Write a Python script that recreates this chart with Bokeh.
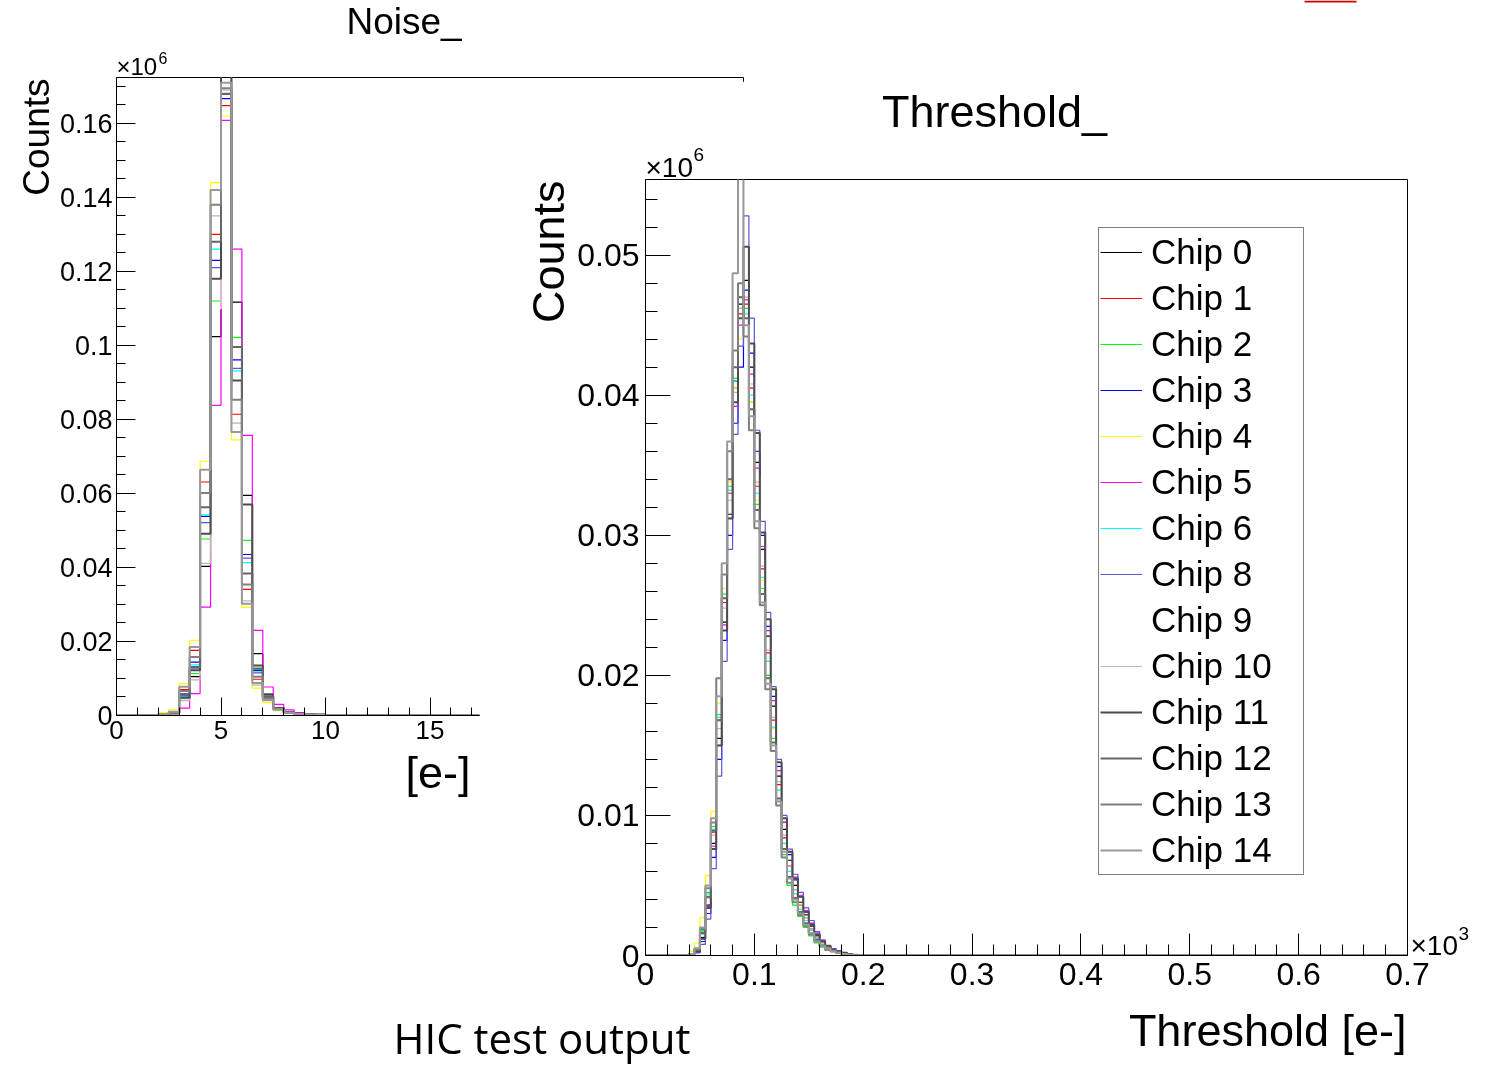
import math
from bokeh.plotting import figure
from bokeh.models import Range1d, FixedTicker, Label, Legend, LegendItem, BoxAnnotation
from bokeh.layouts import column
from bokeh.embed import file_html
from bokeh.resources import INLINE

# ---------------- data ----------------
chips = ["Chip 0", "Chip 1", "Chip 2", "Chip 3", "Chip 4", "Chip 5", "Chip 6",
         "Chip 8", "Chip 9", "Chip 10", "Chip 11", "Chip 12", "Chip 13", "Chip 14"]
chip_colors = ["#000000", "#ff0000", "#00ff00", "#0000ff", "#ffff00", "#ff00ff", "#00ffff",
               "#5954d8", "#ffffff", "#c0b6ac", "#4c4c4c", "#666666", "#7f7f7f", "#999999"]
chip_widths = [1.2, 1.2, 1.2, 1.2, 1.2, 1.2, 1.2, 1.2, 1.2, 1.2, 2, 2, 2, 2]

# Noise histogram: bin edges [e-], counts in units of 10^6
noise_edges = [2.0, 2.5, 3.0, 3.5, 4.0, 4.5, 5.0, 5.5, 6.0, 6.5, 7.0, 7.5, 8.0, 8.5,
               9.0, 9.5, 10.0, 10.5, 11.0, 11.5, 12.0, 12.5, 13.0]
noise_chip0 = [0.0003, 0.0006, 0.0047, 0.0105, 0.0403, 0.1024, 0.1745, 0.1117, 0.0595, 0.0167, 0.0058, 0.0021, 0.0009, 0.0005, 0.0003, 0.0002, 0.0001, 0.0001, 0.0001, 0.00005, 0.00004, 0.00003]
noise_chip1 = [0.0004, 0.0009, 0.0070, 0.0176, 0.0631, 0.1300, 0.1648, 0.0814, 0.0341, 0.0098, 0.0045, 0.0017, 0.0008, 0.0004, 0.0003, 0.0002, 0.0001, 0.0001, 0.00005, 0.00004, 0.00003, 0.00002]
noise_chip2 = [0.0002, 0.0005, 0.0045, 0.0113, 0.0477, 0.1120, 0.1750, 0.1022, 0.0473, 0.0125, 0.0050, 0.0019, 0.0009, 0.0004, 0.0003, 0.0002, 0.0001, 0.0001, 0.00005, 0.00004, 0.00003, 0.00002]
noise_chip3 = [0.0003, 0.0006, 0.0055, 0.0144, 0.0538, 0.1230, 0.1667, 0.0961, 0.0435, 0.0122, 0.0049, 0.0018, 0.0008, 0.0004, 0.0003, 0.0002, 0.0001, 0.0001, 0.00005, 0.00004, 0.00003, 0.00002]
noise_chip4 = [0.0008, 0.0015, 0.0086, 0.0203, 0.0687, 0.1440, 0.1620, 0.0745, 0.0292, 0.0074, 0.0035, 0.0013, 0.0006, 0.0003, 0.0002, 0.0001, 0.0001, 0.00005, 0.00004, 0.00003, 0.00002, 0.00001]
noise_chip5 = [0.0000, 0.0001, 0.0020, 0.0059, 0.0293, 0.0838, 0.1608, 0.1260, 0.0757, 0.0230, 0.0077, 0.0030, 0.0015, 0.0008, 0.0004, 0.0003, 0.0002, 0.0001, 0.0001, 0.00006, 0.00004, 0.00003]
noise_chip6 = [0.0003, 0.0006, 0.0052, 0.0137, 0.0542, 0.1260, 0.1700, 0.0931, 0.0413, 0.0118, 0.0048, 0.0018, 0.0008, 0.0004, 0.0003, 0.0002, 0.0001, 0.0001, 0.00005, 0.00004, 0.00003, 0.00002]
noise_chip8 = [0.0003, 0.0006, 0.0050, 0.0128, 0.0521, 0.1210, 0.1678, 0.0938, 0.0425, 0.0115, 0.0047, 0.0018, 0.0008, 0.0004, 0.0003, 0.0002, 0.0001, 0.0001, 0.00005, 0.00004, 0.00003, 0.00002]
noise_chip9 = [0.0002, 0.0005, 0.0045, 0.0110, 0.0450, 0.1100, 0.1700, 0.0880, 0.0400, 0.0110, 0.0045, 0.0017, 0.0008, 0.0004, 0.0003, 0.0002, 0.0001, 0.0001, 0.00005, 0.00004, 0.00003, 0.00002]
noise_chip10 = [0.0002, 0.0005, 0.0040, 0.0096, 0.0411, 0.1350, 0.1690, 0.0790, 0.0310, 0.0082, 0.0040, 0.0015, 0.0007, 0.0004, 0.0002, 0.0002, 0.0001, 0.0001, 0.00005, 0.00004, 0.00003, 0.00002]
noise_chip11 = [0.0003, 0.0006, 0.0048, 0.0122, 0.0491, 0.1180, 0.1735, 0.0905, 0.0570, 0.0135, 0.0052, 0.0020, 0.0009, 0.0005, 0.0003, 0.0002, 0.0001, 0.0001, 0.00005, 0.00004, 0.00003, 0.00002]
noise_chip12 = [0.0003, 0.0007, 0.0058, 0.0131, 0.0563, 0.1280, 0.1680, 0.0996, 0.0384, 0.0127, 0.0050, 0.0019, 0.0009, 0.0004, 0.0003, 0.0002, 0.0001, 0.0001, 0.00005, 0.00004, 0.00003, 0.00002]
noise_chip13 = [0.0003, 0.0008, 0.0066, 0.0158, 0.0601, 0.1380, 0.1695, 0.0853, 0.0354, 0.0105, 0.0046, 0.0017, 0.0008, 0.0004, 0.0003, 0.0002, 0.0001, 0.0001, 0.00005, 0.00004, 0.00003, 0.00002]
noise_chip14 = [0.0004, 0.0010, 0.0078, 0.0185, 0.0664, 0.1420, 0.1710, 0.0766, 0.0302, 0.0088, 0.0042, 0.0016, 0.0007, 0.0004, 0.0002, 0.0002, 0.0001, 0.0001, 0.00005, 0.00004, 0.00003, 0.00002]

# Threshold histogram: bin edges in units of 10^3 e-, counts in units of 10^6
thr_edges = [0.040, 0.045, 0.050, 0.055, 0.060, 0.065, 0.070, 0.075, 0.080, 0.085, 0.090,
             0.095, 0.100, 0.105, 0.110, 0.115, 0.120, 0.125, 0.130, 0.135, 0.140, 0.145,
             0.150, 0.155, 0.160, 0.165, 0.170, 0.175, 0.180, 0.185, 0.190, 0.195, 0.200]
thr_chip0 = [0.0001, 0.0003, 0.0013, 0.0036, 0.0080, 0.0155, 0.0238, 0.0315, 0.0410, 0.0465, 0.0482, 0.0420, 0.0352, 0.0290, 0.0228, 0.0178, 0.0128, 0.0090, 0.0068, 0.0050, 0.0038, 0.0029, 0.0021, 0.0014, 0.0010, 0.0006, 0.0004, 0.0003, 0.0002, 0.0001, 0.00006, 0.00003]
thr_chip1 = [0.0001, 0.0004, 0.0016, 0.0042, 0.0088, 0.0168, 0.0252, 0.0330, 0.0405, 0.0458, 0.0465, 0.0405, 0.0335, 0.0276, 0.0216, 0.0168, 0.0122, 0.0084, 0.0064, 0.0047, 0.0036, 0.0027, 0.0019, 0.0013, 0.0009, 0.0006, 0.0004, 0.0002, 0.00015, 0.0001, 0.00005, 0.00002]
thr_chip2 = [0.0001, 0.0005, 0.0018, 0.0045, 0.0092, 0.0172, 0.0258, 0.0335, 0.0412, 0.0470, 0.0462, 0.0395, 0.0322, 0.0262, 0.0200, 0.0155, 0.0110, 0.0072, 0.0050, 0.0036, 0.0028, 0.0020, 0.0014, 0.0009, 0.0006, 0.0004, 0.0003, 0.0002, 0.0001, 0.00006, 0.00003, 0.00001]
thr_chip3 = [0.0000, 0.0002, 0.0010, 0.0030, 0.0070, 0.0140, 0.0225, 0.0300, 0.0380, 0.0420, 0.0475, 0.0430, 0.0360, 0.0300, 0.0235, 0.0185, 0.0135, 0.0095, 0.0072, 0.0054, 0.0042, 0.0032, 0.0023, 0.0015, 0.0010, 0.0007, 0.0004, 0.0003, 0.0002, 0.0001, 0.00006, 0.00003]
thr_chip4 = [0.0003, 0.0009, 0.0027, 0.0057, 0.0103, 0.0180, 0.0262, 0.0338, 0.0405, 0.0440, 0.0455, 0.0395, 0.0325, 0.0268, 0.0210, 0.0162, 0.0118, 0.0080, 0.0060, 0.0044, 0.0034, 0.0025, 0.0018, 0.0012, 0.0008, 0.0005, 0.0003, 0.0002, 0.0001, 0.00006, 0.00003, 0.00001]
thr_chip5 = [0.0000, 0.0003, 0.0012, 0.0035, 0.0078, 0.0150, 0.0236, 0.0312, 0.0392, 0.0450, 0.0468, 0.0415, 0.0348, 0.0292, 0.0232, 0.0182, 0.0132, 0.0095, 0.0074, 0.0056, 0.0043, 0.0032, 0.0023, 0.0016, 0.0011, 0.0007, 0.0005, 0.0003, 0.0002, 0.0001, 0.00007, 0.00004]
thr_chip6 = [0.0001, 0.0005, 0.0017, 0.0044, 0.0090, 0.0170, 0.0255, 0.0332, 0.0410, 0.0462, 0.0458, 0.0400, 0.0330, 0.0270, 0.0210, 0.0163, 0.0118, 0.0080, 0.0060, 0.0044, 0.0033, 0.0025, 0.0018, 0.0012, 0.0008, 0.0005, 0.0003, 0.0002, 0.0001, 0.00006, 0.00003, 0.00001]
thr_chip8 = [0.0000, 0.0002, 0.0008, 0.0026, 0.0062, 0.0128, 0.0210, 0.0290, 0.0372, 0.0435, 0.0528, 0.0455, 0.0375, 0.0310, 0.0245, 0.0192, 0.0140, 0.0100, 0.0076, 0.0058, 0.0045, 0.0034, 0.0025, 0.0017, 0.0011, 0.0007, 0.0005, 0.0003, 0.0002, 0.0001, 0.00007, 0.00004]
thr_chip9 = [0.0001, 0.0004, 0.0014, 0.0038, 0.0082, 0.0158, 0.0240, 0.0318, 0.0398, 0.0455, 0.0472, 0.0412, 0.0342, 0.0282, 0.0222, 0.0174, 0.0126, 0.0088, 0.0066, 0.0049, 0.0037, 0.0028, 0.0020, 0.0013, 0.0009, 0.0006, 0.0004, 0.00025, 0.00015, 0.0001, 0.00006, 0.00003]
thr_chip10 = [0.0001, 0.0004, 0.0015, 0.0041, 0.0086, 0.0162, 0.0248, 0.0325, 0.0402, 0.0462, 0.0470, 0.0408, 0.0338, 0.0278, 0.0218, 0.0170, 0.0124, 0.0086, 0.0064, 0.0047, 0.0036, 0.0027, 0.0019, 0.0013, 0.0009, 0.0006, 0.0004, 0.00025, 0.00015, 0.0001, 0.00006, 0.00003]
thr_chip11 = [0.0001, 0.0003, 0.0012, 0.0034, 0.0076, 0.0150, 0.0232, 0.0312, 0.0395, 0.0455, 0.0506, 0.0437, 0.0373, 0.0302, 0.0240, 0.0190, 0.0138, 0.0098, 0.0074, 0.0055, 0.0042, 0.0031, 0.0022, 0.0015, 0.0010, 0.0007, 0.0004, 0.0003, 0.0002, 0.0001, 0.00006, 0.00003]
thr_chip12 = [0.0001, 0.0004, 0.0016, 0.0042, 0.0089, 0.0168, 0.0255, 0.0340, 0.0420, 0.0470, 0.0455, 0.0390, 0.0318, 0.0258, 0.0198, 0.0152, 0.0112, 0.0076, 0.0056, 0.0041, 0.0031, 0.0023, 0.0016, 0.0011, 0.0007, 0.0005, 0.0003, 0.0002, 0.0001, 0.00006, 0.00003, 0.00001]
thr_chip13 = [0.0001, 0.0005, 0.0019, 0.0048, 0.0095, 0.0198, 0.0272, 0.0360, 0.0432, 0.0480, 0.0442, 0.0375, 0.0305, 0.0250, 0.0190, 0.0146, 0.0107, 0.0070, 0.0052, 0.0038, 0.0029, 0.0021, 0.0015, 0.0010, 0.0007, 0.0004, 0.0003, 0.0002, 0.0001, 0.00005, 0.00002, 0.00001]
thr_chip14 = [0.0001, 0.0005, 0.0020, 0.0050, 0.0098, 0.0185, 0.0280, 0.0367, 0.0487, 0.0560, 0.0450, 0.0385, 0.0310, 0.0252, 0.0194, 0.0150, 0.0110, 0.0074, 0.0055, 0.0040, 0.0030, 0.0022, 0.0016, 0.0010, 0.0007, 0.0005, 0.0003, 0.0002, 0.0001, 0.00005, 0.00002, 0.00001]

noise_series = [noise_chip0, noise_chip1, noise_chip2, noise_chip3, noise_chip4, noise_chip5, noise_chip6,
                noise_chip8, noise_chip9, noise_chip10, noise_chip11, noise_chip12, noise_chip13, noise_chip14]
thr_series = [thr_chip0, thr_chip1, thr_chip2, thr_chip3, thr_chip4, thr_chip5, thr_chip6,
              thr_chip8, thr_chip9, thr_chip10, thr_chip11, thr_chip12, thr_chip13, thr_chip14]

# tick labels
noise_xticks = [0, 5, 10, 15, 20, 25, 30]
noise_xtick_labels = ["0", "5", "10", "15", "20", "25", "30"]
noise_yticks = [0, 0.02, 0.04, 0.06, 0.08, 0.1, 0.12, 0.14, 0.16]
noise_ytick_labels = ["0", "0.02", "0.04", "0.06", "0.08", "0.1", "0.12", "0.14", "0.16"]
thr_xticks = [0, 0.1, 0.2, 0.3, 0.4, 0.5, 0.6, 0.7]
thr_xtick_labels = ["0", "0.1", "0.2", "0.3", "0.4", "0.5", "0.6", "0.7"]
thr_yticks = [0, 0.01, 0.02, 0.03, 0.04, 0.05]
thr_ytick_labels = ["0", "0.01", "0.02", "0.03", "0.04", "0.05"]

NOISE_X = (0, 30)
NOISE_Y = (0, 0.1724)
THR_X = (0, 0.7)
THR_Y = (0, 0.0554)

FONT = "Liberation Sans"

# ---------------- geometry (page pixels) ----------------
# All pads share the same left/right borders (a column aligns plot frames)
B_L, B_R = 166, 84
PAGE_W, PAGE_H = 1491, 1065
# noise frame on page: x 116..743, y 77..715
N_FX, N_FY, N_FW, N_FH = 116, 77, 627, 638
N_BB = 85
# threshold frame on page: x 645..1407, y 179..955
T_FX, T_FY, T_FW, T_FH = 645, 179, 762, 776
T_BT, T_BB = 98, 110


def step_path(edges, vals, lo, hi):
    xs, ys = [lo, edges[0]], [0, 0]
    for i, v in enumerate(vals):
        xs += [edges[i], edges[i + 1]]
        ys += [v, v]
    xs += [edges[-1], hi]
    ys += [0, 0]
    return xs, ys


def style_axis(ax, size, tin, tmin, standoff):
    ax.major_tick_in = tin
    ax.major_tick_out = 0
    ax.minor_tick_in = tmin
    ax.minor_tick_out = 0
    ax.major_label_standoff = standoff
    ax.major_label_text_font = FONT
    ax.major_label_text_font_size = size
    ax.major_label_text_color = "black"
    ax.axis_line_color = "black"
    ax.major_tick_line_color = "black"
    ax.minor_tick_line_color = "black"


# ---------------- Noise pad ----------------
noise = figure(width=B_L + N_FW + B_R, height=N_FY + N_FH + N_BB,
               x_range=Range1d(*NOISE_X), y_range=Range1d(*NOISE_Y),
               output_backend="svg", toolbar_location=None,
               min_border_left=B_L, min_border_top=N_FY, min_border_right=B_R, min_border_bottom=N_BB)
noise.grid.grid_line_color = None
noise.outline_line_color = "black"
noise.background_fill_color = "white"
noise.border_fill_color = "white"

xa = noise.xaxis[0]
xa.ticker = FixedTicker(ticks=noise_xticks, minor_ticks=list(range(0, 31)))
xa.major_label_overrides = dict(zip(noise_xticks, noise_xtick_labels))
style_axis(xa, "26px", 18, 8, 5)
ya = noise.yaxis[0]
ya.ticker = FixedTicker(ticks=noise_yticks, minor_ticks=[round(0.005 * i, 3) for i in range(35)])
ya.major_label_overrides = dict(zip(noise_yticks, noise_ytick_labels))
style_axis(ya, "27px", 19, 9, 4)

for vals, col, w in zip(noise_series, chip_colors, chip_widths):
    xs, ys = step_path(noise_edges, vals, NOISE_X[0], NOISE_X[1])
    noise.line(xs, ys, line_color=col, line_width=w)

# ---------------- Threshold pad ----------------
thr = figure(width=B_L + T_FW + B_R, height=T_BT + T_FH + T_BB,
             x_range=Range1d(*THR_X), y_range=Range1d(*THR_Y),
             output_backend="svg", toolbar_location=None,
             min_border_left=B_L, min_border_top=T_BT, min_border_right=B_R, min_border_bottom=T_BB)
thr.grid.grid_line_color = None
thr.outline_line_color = "black"
thr.background_fill_color = "white"
thr.border_fill_color = "white"

xa = thr.xaxis[0]
xa.ticker = FixedTicker(ticks=thr_xticks, minor_ticks=[round(0.02 * i, 3) for i in range(36)])
xa.major_label_overrides = dict(zip(thr_xticks, thr_xtick_labels))
style_axis(xa, "32px", 22, 11, 7)
ya = thr.yaxis[0]
ya.ticker = FixedTicker(ticks=thr_yticks, minor_ticks=[round(0.002 * i, 3) for i in range(28)])
ya.major_label_overrides = dict(zip(thr_yticks, thr_ytick_labels))
style_axis(ya, "32px", 25, 12, 6)

items = []
for name, vals, col, w in zip(chips, thr_series, chip_colors, chip_widths):
    xs, ys = step_path(thr_edges, vals, THR_X[0], THR_X[1])
    r = thr.line(xs, ys, line_color=col, line_width=w)
    items.append(LegendItem(label=name, renderers=[r]))

legend = Legend(items=items, location=(1098 - T_FX, T_FY + T_FH - 875),
                label_text_font=FONT, label_text_font_size="35px", label_text_color="black",
                glyph_width=42, glyph_height=46, label_height=46, label_standoff=9,
                label_width=151, padding=1, spacing=0, margin=0,
                border_line_color="black", border_line_width=1,
                background_fill_color="white", background_fill_alpha=1.0)
thr.add_layout(legend)

# ---------------- page overlay (texts of both pads + slide text) ----------------
over = figure(width=B_L + PAGE_W + B_R, height=PAGE_H,
              x_range=Range1d(0, PAGE_W), y_range=Range1d(PAGE_H, 0),
              output_backend="svg", toolbar_location=None, x_axis_type=None, y_axis_type=None,
              min_border_left=B_L, min_border_right=B_R, min_border_top=0, min_border_bottom=0)
over.grid.grid_line_color = None
over.outline_line_color = None
over.background_fill_alpha = 0
over.border_fill_alpha = 0

MID = 0.37  # distance from text middle to baseline, in em


def text_h(x, base, s, size, align="left", font=FONT, k=MID):
    over.add_layout(Label(x=x, y=base - k * size, text=s, text_font=font,
                          text_font_size=f"{size}px", text_align=align,
                          text_baseline="middle", text_color="black"))


def text_v(base_x, top, s, size, font=FONT, k=MID):
    over.add_layout(Label(x=base_x - k * size, y=top, text=s, text_font=font,
                          text_font_size=f"{size}px", text_align="right",
                          text_baseline="middle", angle=math.pi / 2, text_color="black"))


# noise pad texts
text_h(403.5, 35, "Noise_", 37, "center")
text_v(50, N_FY + 1, "Counts", 37)
text_h(470, 789, "[e-]", 45, "right")
text_h(N_FX, 75, "\u00d710", 24)
text_h(158, 63, "6", 16)
# threshold pad texts
text_h(994, 128, "Threshold_", 45, "center")
text_v(565, T_FY + 1, "Counts", 45)
text_h(T_FX + T_FW - 1, 1047, "Threshold [e-]", 45, "right")
text_h(T_FX, 177, "\u00d710", 28)
text_h(693, 161, "6", 19)
text_h(1410, 955, "\u00d710", 28)
text_h(1458, 940, "3", 19)
# slide text
text_h(393, 1053, "HIC test output", 42, "left", "Open Sans", 0.39)
over.add_layout(BoxAnnotation(left=1304, right=1356, top=0, bottom=2, fill_color="#d40000",
                              fill_alpha=1, line_color=None))

# absolute placement inside a fixed container that starts B_L px left of the page
noise.styles = {"position": "absolute", "left": f"{N_FX}px", "top": "0px"}
thr.styles = {"position": "absolute", "left": f"{T_FX}px", "top": f"{T_FY - T_BT}px"}
over.styles = {"position": "absolute", "left": "0px", "top": "0px"}

p = column(noise, thr, over, width=B_L + PAGE_W + B_R, height=PAGE_H,
           styles={"position": "fixed", "left": f"{-B_L}px", "top": "0px", "overflow": "hidden"})

open("out.html", "w").write(file_html(p, INLINE))
